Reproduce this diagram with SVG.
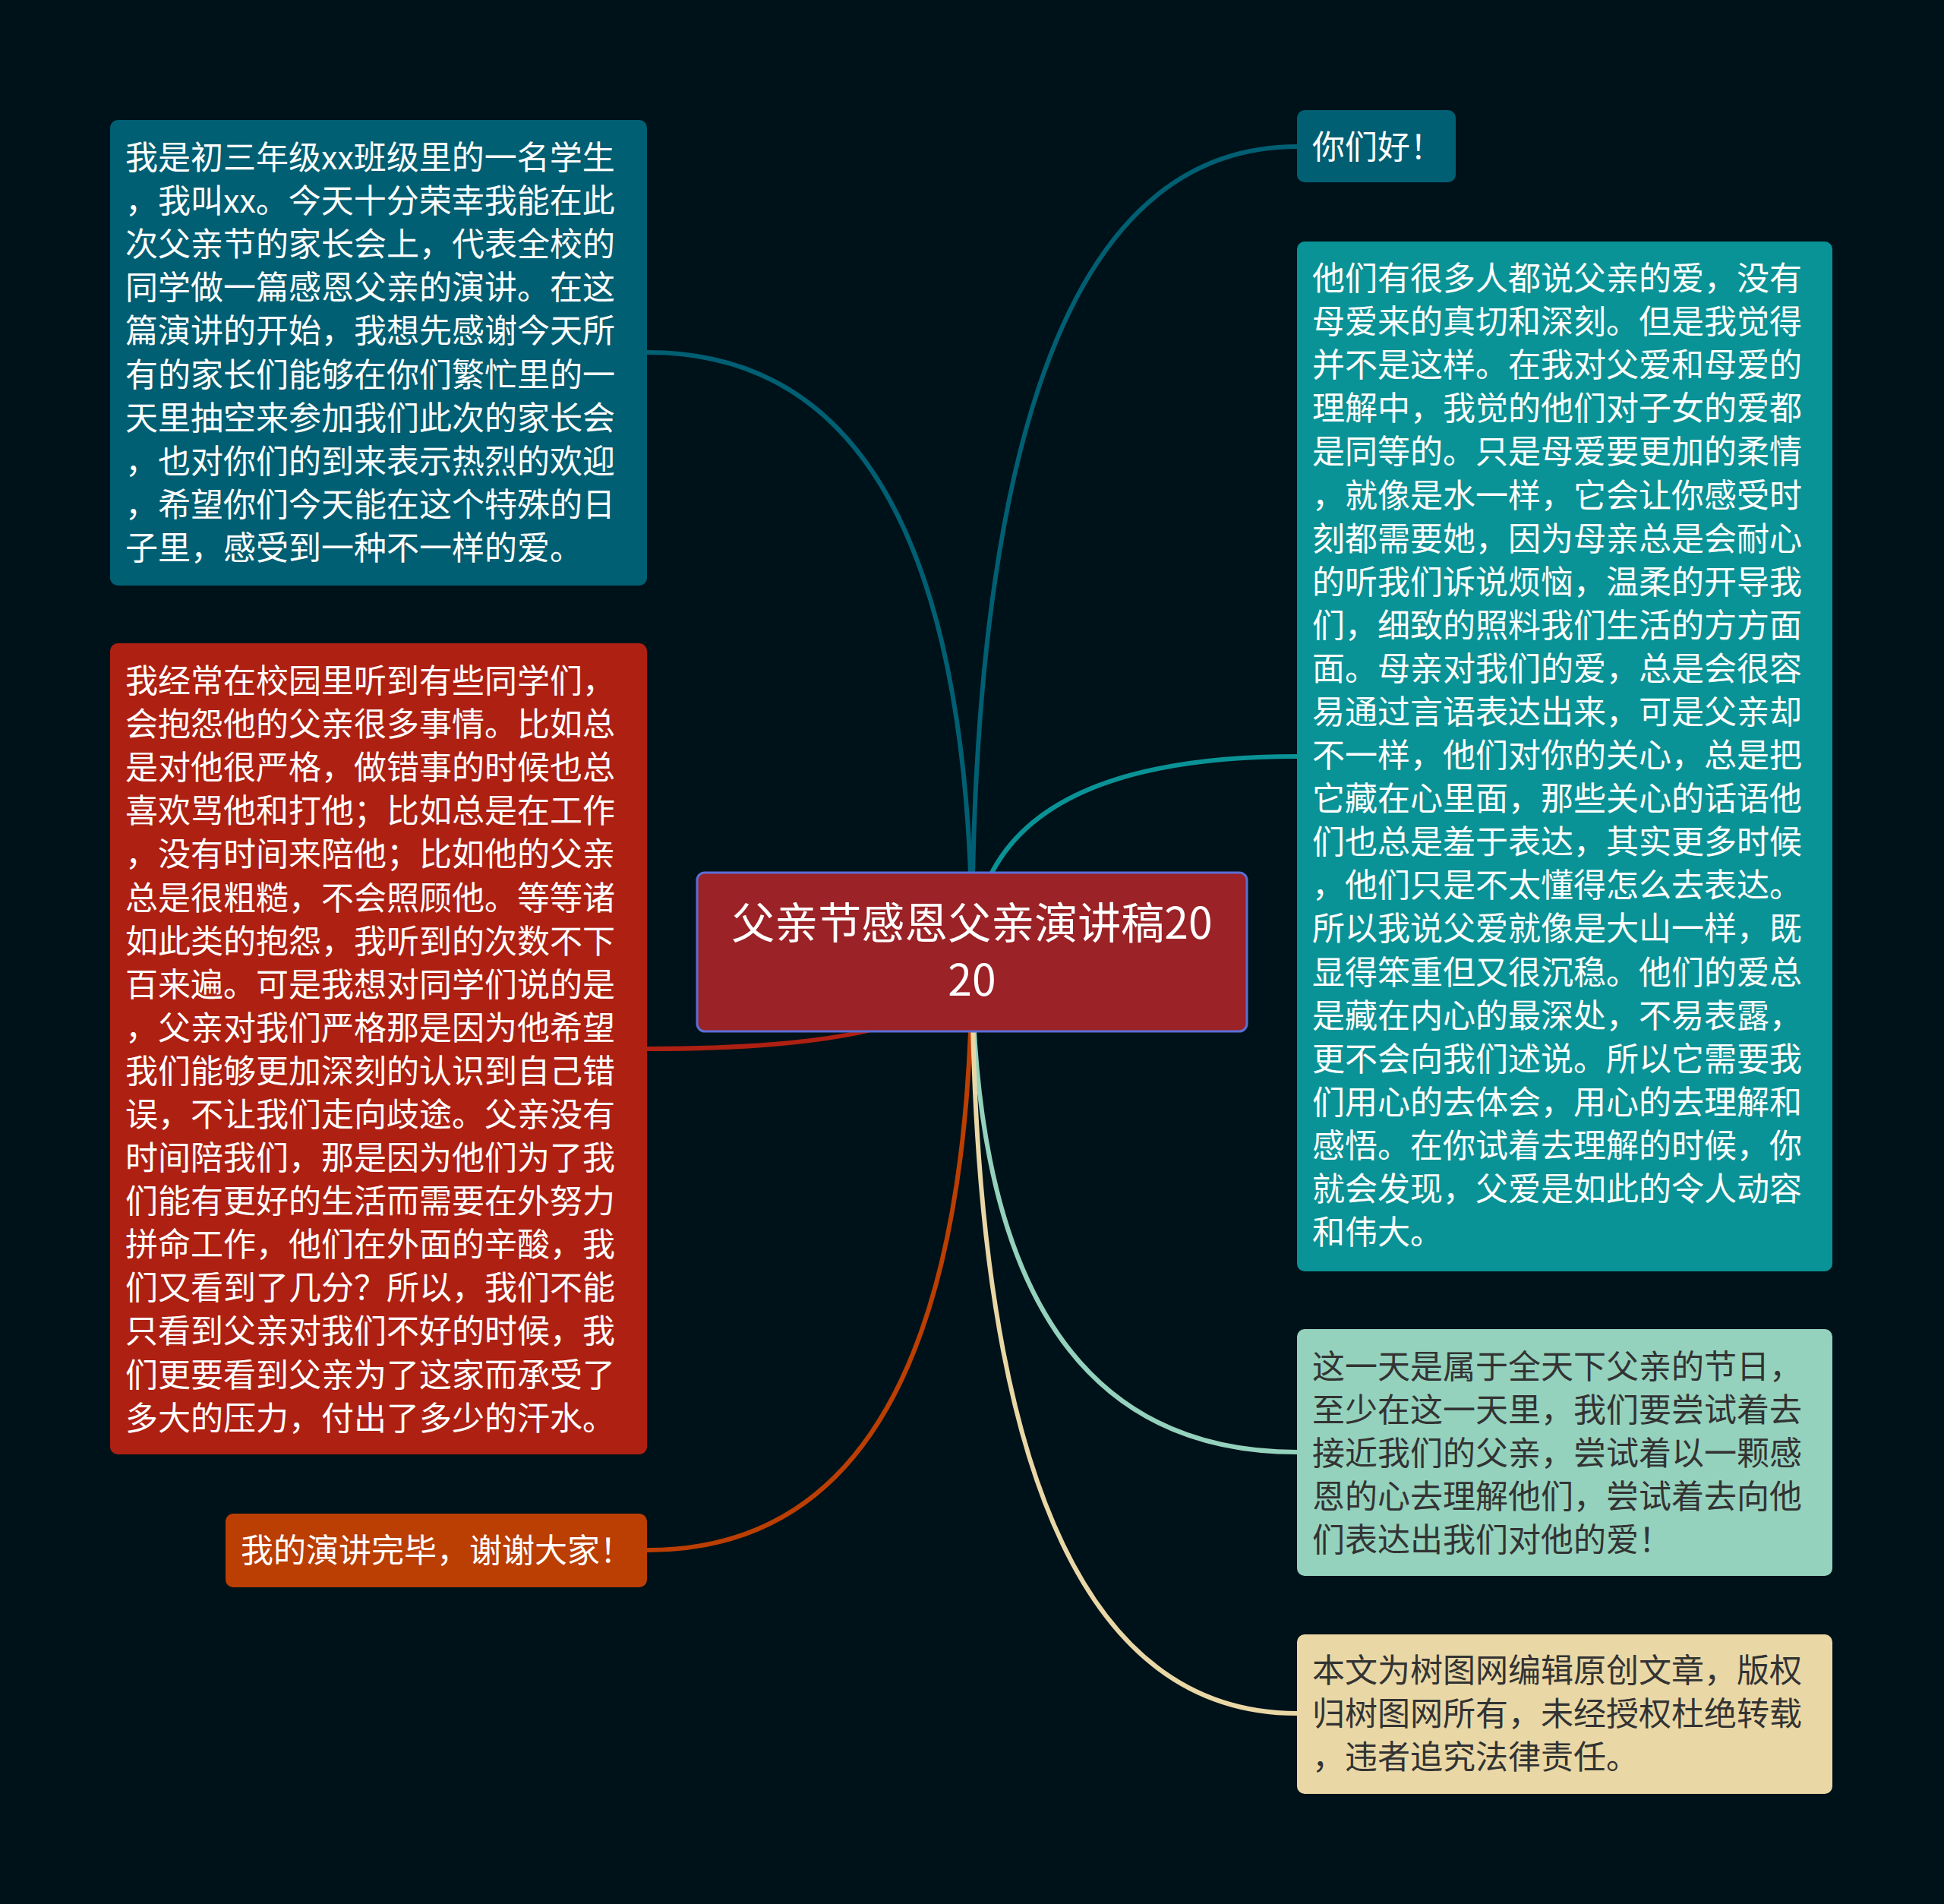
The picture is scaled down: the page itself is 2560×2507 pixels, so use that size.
<svg xmlns="http://www.w3.org/2000/svg" width="2560" height="2507" viewBox="0 0 2560 2507">
<style>
.t{font-family:"Noto Sans CJK SC","Noto Sans",sans-serif;font-size:43px;}
.w{fill:#ffffff;}
.d{fill:#333333;}
.c{fill:none;stroke-width:6;stroke-linecap:round;}
</style>
<rect x="0" y="0" width="2560" height="2507" fill="#001219"/>
<g id="connectors">
<path class="c" stroke="#005f73" d="M1280,1254 Q1280,193 1708,193"/>
<path class="c" stroke="#005f73" d="M1280,1254 Q1280,464 853,464"/>
<path class="c" stroke="#0a9396" d="M1280,1254 Q1290,996 1708,996"/>
<path class="c" stroke="#ae2012" d="M1280,1254 Q1280,1381 853,1381"/>
<path class="c" stroke="#bb3e03" d="M1280,1254 Q1280,2041 853,2041"/>
<path class="c" stroke="#94d2bd" d="M1280,1254 Q1280,1912 1708,1912"/>
<path class="c" stroke="#e9d8a6" d="M1280,1254 Q1280,2256 1708,2256"/>
</g>
<g id="center">
<rect x="918" y="1149" width="724" height="209" rx="10" fill="#9b2226" stroke="#5b6fd6" stroke-width="3"/>
<text class="w" font-family="Noto Sans CJK SC, sans-serif" font-size="57" text-anchor="middle"><tspan x="1280" y="1236">父亲节感恩父亲演讲稿20</tspan><tspan x="1280" y="1311">20</tspan></text>
</g>
<g id="n-left1">
<rect x="145" y="158" width="707" height="613" rx="10" fill="#005f73"/>
<text class="t w"><tspan x="165" y="223">我是初三年级xx班级里的一名学生</tspan><tspan x="165" dy="57.1">，我叫xx。今天十分荣幸我能在此</tspan><tspan x="165" dy="57.1">次父亲节的家长会上，代表全校的</tspan><tspan x="165" dy="57.1">同学做一篇感恩父亲的演讲。在这</tspan><tspan x="165" dy="57.1">篇演讲的开始，我想先感谢今天所</tspan><tspan x="165" dy="57.1">有的家长们能够在你们繁忙里的一</tspan><tspan x="165" dy="57.1">天里抽空来参加我们此次的家长会</tspan><tspan x="165" dy="57.1">，也对你们的到来表示热烈的欢迎</tspan><tspan x="165" dy="57.1">，希望你们今天能在这个特殊的日</tspan><tspan x="165" dy="57.1">子里，感受到一种不一样的爱。</tspan></text>
</g>
<g id="n-left2">
<rect x="145" y="847" width="707" height="1068" rx="10" fill="#ae2012"/>
<text class="t w"><tspan x="165" y="912">我经常在校园里听到有些同学们，</tspan><tspan x="165" dy="57.1">会抱怨他的父亲很多事情。比如总</tspan><tspan x="165" dy="57.1">是对他很严格，做错事的时候也总</tspan><tspan x="165" dy="57.1">喜欢骂他和打他；比如总是在工作</tspan><tspan x="165" dy="57.1">，没有时间来陪他；比如他的父亲</tspan><tspan x="165" dy="57.1">总是很粗糙，不会照顾他。等等诸</tspan><tspan x="165" dy="57.1">如此类的抱怨，我听到的次数不下</tspan><tspan x="165" dy="57.1">百来遍。可是我想对同学们说的是</tspan><tspan x="165" dy="57.1">，父亲对我们严格那是因为他希望</tspan><tspan x="165" dy="57.1">我们能够更加深刻的认识到自己错</tspan><tspan x="165" dy="57.1">误，不让我们走向歧途。父亲没有</tspan><tspan x="165" dy="57.1">时间陪我们，那是因为他们为了我</tspan><tspan x="165" dy="57.1">们能有更好的生活而需要在外努力</tspan><tspan x="165" dy="57.1">拼命工作，他们在外面的辛酸，我</tspan><tspan x="165" dy="57.1">们又看到了几分？所以，我们不能</tspan><tspan x="165" dy="57.1">只看到父亲对我们不好的时候，我</tspan><tspan x="165" dy="57.1">们更要看到父亲为了这家而承受了</tspan><tspan x="165" dy="57.1">多大的压力，付出了多少的汗水。</tspan></text>
</g>
<g id="n-left3">
<rect x="297" y="1993" width="555" height="97" rx="10" fill="#bb3e03"/>
<text class="t w"><tspan x="317" y="2057">我的演讲完毕，谢谢大家！</tspan></text>
</g>
<g id="n-right1">
<rect x="1708" y="145" width="209" height="95" rx="10" fill="#005f73"/>
<text class="t w"><tspan x="1728" y="209">你们好！</tspan></text>
</g>
<g id="n-right2">
<rect x="1708" y="318" width="705" height="1356" rx="10" fill="#0a9396"/>
<text class="t w"><tspan x="1728" y="382">他们有很多人都说父亲的爱，没有</tspan><tspan x="1728" dy="57.1">母爱来的真切和深刻。但是我觉得</tspan><tspan x="1728" dy="57.1">并不是这样。在我对父爱和母爱的</tspan><tspan x="1728" dy="57.1">理解中，我觉的他们对子女的爱都</tspan><tspan x="1728" dy="57.1">是同等的。只是母爱要更加的柔情</tspan><tspan x="1728" dy="57.1">，就像是水一样，它会让你感受时</tspan><tspan x="1728" dy="57.1">刻都需要她，因为母亲总是会耐心</tspan><tspan x="1728" dy="57.1">的听我们诉说烦恼，温柔的开导我</tspan><tspan x="1728" dy="57.1">们，细致的照料我们生活的方方面</tspan><tspan x="1728" dy="57.1">面。母亲对我们的爱，总是会很容</tspan><tspan x="1728" dy="57.1">易通过言语表达出来，可是父亲却</tspan><tspan x="1728" dy="57.1">不一样，他们对你的关心，总是把</tspan><tspan x="1728" dy="57.1">它藏在心里面，那些关心的话语他</tspan><tspan x="1728" dy="57.1">们也总是羞于表达，其实更多时候</tspan><tspan x="1728" dy="57.1">，他们只是不太懂得怎么去表达。</tspan><tspan x="1728" dy="57.1">所以我说父爱就像是大山一样，既</tspan><tspan x="1728" dy="57.1">显得笨重但又很沉稳。他们的爱总</tspan><tspan x="1728" dy="57.1">是藏在内心的最深处，不易表露，</tspan><tspan x="1728" dy="57.1">更不会向我们述说。所以它需要我</tspan><tspan x="1728" dy="57.1">们用心的去体会，用心的去理解和</tspan><tspan x="1728" dy="57.1">感悟。在你试着去理解的时候，你</tspan><tspan x="1728" dy="57.1">就会发现，父爱是如此的令人动容</tspan><tspan x="1728" dy="57.1">和伟大。</tspan></text>
</g>
<g id="n-right3">
<rect x="1708" y="1750" width="705" height="325" rx="10" fill="#94d2bd"/>
<text class="t d"><tspan x="1728" y="1815">这一天是属于全天下父亲的节日，</tspan><tspan x="1728" dy="57.1">至少在这一天里，我们要尝试着去</tspan><tspan x="1728" dy="57.1">接近我们的父亲，尝试着以一颗感</tspan><tspan x="1728" dy="57.1">恩的心去理解他们，尝试着去向他</tspan><tspan x="1728" dy="57.1">们表达出我们对他的爱！</tspan></text>
</g>
<g id="n-right4">
<rect x="1708" y="2152" width="705" height="210" rx="10" fill="#e9d8a6"/>
<text class="t d"><tspan x="1728" y="2215">本文为树图网编辑原创文章，版权</tspan><tspan x="1728" dy="57.1">归树图网所有，未经授权杜绝转载</tspan><tspan x="1728" dy="57.1">，违者追究法律责任。</tspan></text>
</g>
</svg>
